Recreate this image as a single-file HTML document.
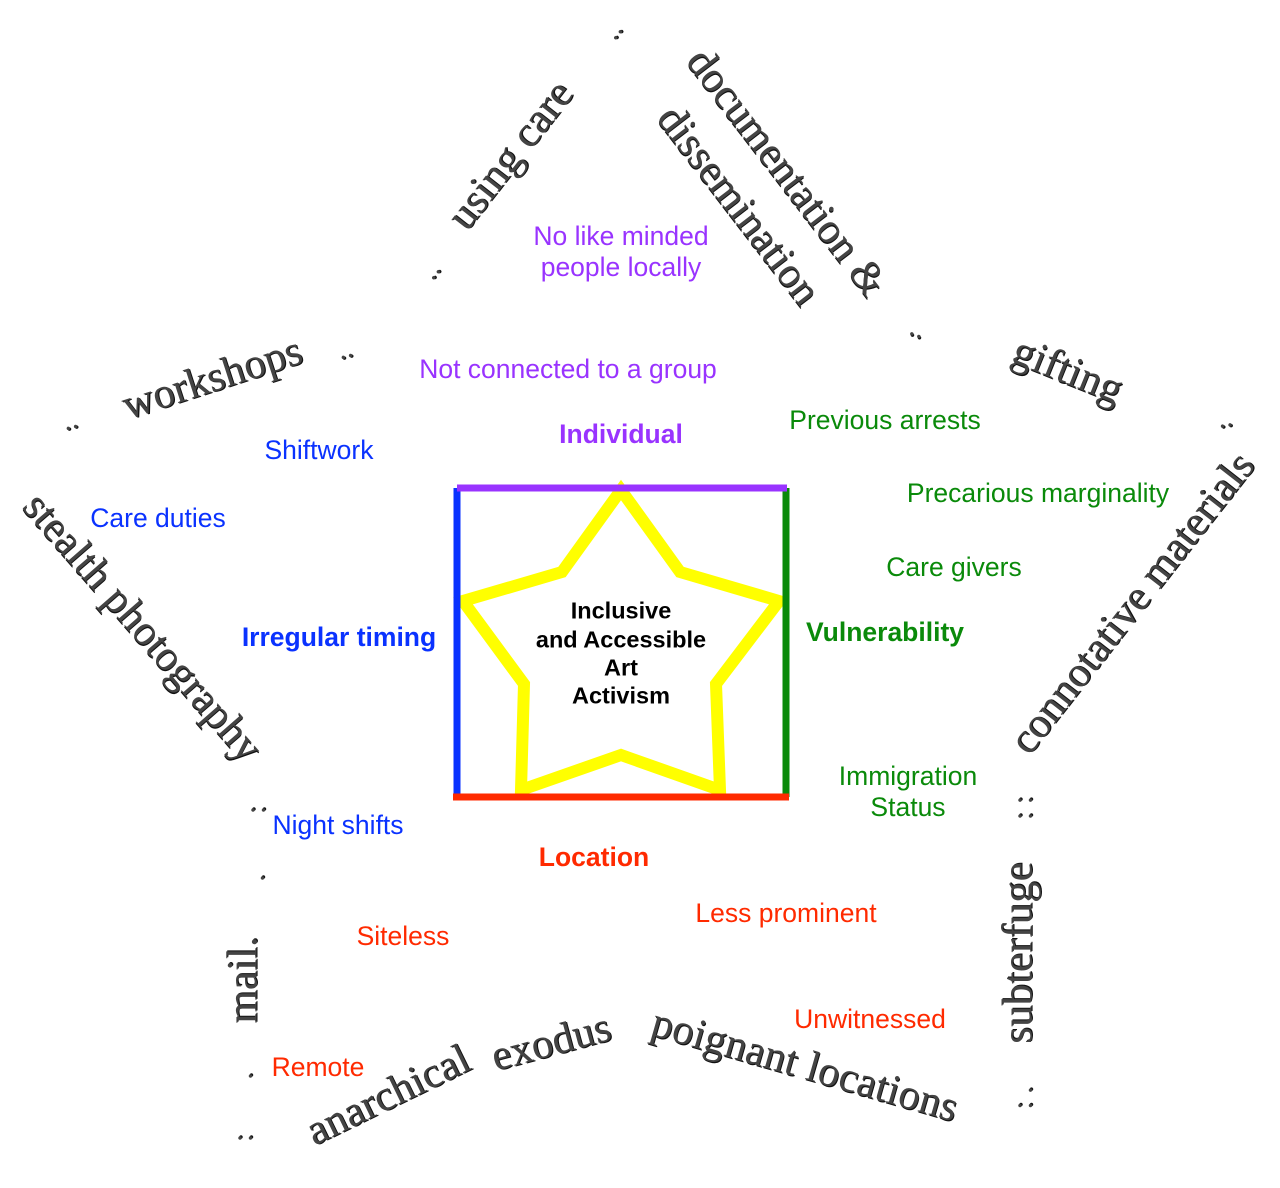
<!DOCTYPE html>
<html><head><meta charset="utf-8"><style>
html,body{margin:0;padding:0;background:#fff;}
body{width:1280px;height:1188px;position:relative;overflow:hidden;}
.w{position:absolute;transform:translate(-50%,-50%) rotate(var(--r));white-space:nowrap;font-family:"Liberation Serif",serif;font-size:43px;color:#444;text-shadow:1px 1px 0 #111;line-height:1;}
.d{font-size:30px;}
.c{position:absolute;transform:translate(-50%,-50%);white-space:nowrap;font-family:"Liberation Sans",sans-serif;font-size:26.5px;line-height:1;}
.b{font-weight:bold;}
.p{color:#9933ff}.bl{color:#0a32ff}.g{color:#0a8a0a}.r{color:#ff2a00}
</style></head><body>
<svg width="1280" height="1188" style="position:absolute;left:0;top:0">
<polygon points="621,490 680,572 779,601 716,684 720,790 621,755 521,790 524,684 463,601 562,572" fill="none" stroke="#ffff00" stroke-width="12" stroke-linejoin="miter"/>
<line x1="457" y1="488" x2="457" y2="797" stroke="#0a32ff" stroke-width="7"/>
<line x1="786" y1="488" x2="786" y2="797" stroke="#0a8a0a" stroke-width="7"/>
<line x1="457" y1="488" x2="787" y2="488" stroke="#9933ff" stroke-width="7"/>
<line x1="453" y1="797" x2="789" y2="797" stroke="#ff2a00" stroke-width="7"/>
</svg>
<div class="c b" style="left:621px;top:611px;font-size:23.5px">Inclusive</div>
<div class="c b" style="left:621px;top:640px;font-size:23.5px">and Accessible</div>
<div class="c b" style="left:621px;top:668px;font-size:23.5px">Art</div>
<div class="c b" style="left:621px;top:696px;font-size:23.5px">Activism</div>

<div class="c p" style="left:621px;top:236px">No like minded</div>
<div class="c p" style="left:621px;top:267px">people locally</div>
<div class="c p" style="left:568px;top:369px">Not connected to a group</div>
<div class="c p b" style="left:621px;top:434px">Individual</div>
<div class="c bl" style="left:319px;top:450px">Shiftwork</div>
<div class="c bl" style="left:158px;top:518px">Care duties</div>
<div class="c bl b" style="left:339px;top:637px">Irregular timing</div>
<div class="c bl" style="left:338px;top:825px">Night shifts</div>
<div class="c r b" style="left:594px;top:857px">Location</div>
<div class="c r" style="left:403px;top:936px">Siteless</div>
<div class="c r" style="left:786px;top:913px">Less prominent</div>
<div class="c r" style="left:870px;top:1019px">Unwitnessed</div>
<div class="c r" style="left:318px;top:1067px">Remote</div>
<div class="c g" style="left:885px;top:420px">Previous arrests</div>
<div class="c g" style="left:1038px;top:493px">Precarious marginality</div>
<div class="c g" style="left:954px;top:567px">Care givers</div>
<div class="c g b" style="left:885px;top:632px">Vulnerability</div>
<div class="c g" style="left:908px;top:776px">Immigration</div>
<div class="c g" style="left:908px;top:807px">Status</div>

<div class="w" style="left:510px;top:155px;--r:-52deg">using care</div>
<div class="w d" style="left:612px;top:30px;--r:-52deg">..</div>
<div class="w d" style="left:430px;top:270px;--r:-52deg">..</div>
<div class="w" style="left:787px;top:172px;--r:52.5deg">documentation &amp;</div>
<div class="w" style="left:739px;top:205px;--r:52.5deg">dissemination</div>
<div class="w d" style="left:918px;top:328px;--r:20deg">..</div>
<div class="w" style="left:1068px;top:370px;--r:22deg">gifting</div>
<div class="w d" style="left:1225px;top:418px;--r:-10deg">..</div>
<div class="w" style="left:1132px;top:603px;--r:-52deg">connotative materials</div>
<div class="w d" style="left:1023px;top:808px;--r:-90deg">: :</div>
<div class="w" style="left:1018px;top:953px;--r:-90deg">subterfuge</div>
<div class="w d" style="left:1023px;top:1098px;--r:-90deg">: .</div>
<div class="w" style="left:805px;top:1065px;--r:16deg">poignant locations</div>
<div class="w" style="left:388px;top:1095px;--r:-26deg">anarchical</div>
<div class="w" style="left:551px;top:1042px;--r:-15deg">exodus</div>
<div class="w" style="left:243px;top:980px;--r:-90deg">mail.</div>
<div class="w d" style="left:256px;top:810px;--r:-90deg">:</div>
<div class="w d" style="left:255px;top:878px;--r:-90deg">.</div>
<div class="w d" style="left:243px;top:1076px;--r:-90deg">.</div>
<div class="w d" style="left:243px;top:1138px;--r:-90deg">:</div>
<div class="w" style="left:143px;top:627px;--r:49deg">stealth photography</div>
<div class="w d" style="left:70px;top:420px;--r:-15deg">..</div>
<div class="w" style="left:212px;top:378px;--r:-18deg">workshops</div>
<div class="w d" style="left:345px;top:349px;--r:-15deg">..</div>
</body></html>
